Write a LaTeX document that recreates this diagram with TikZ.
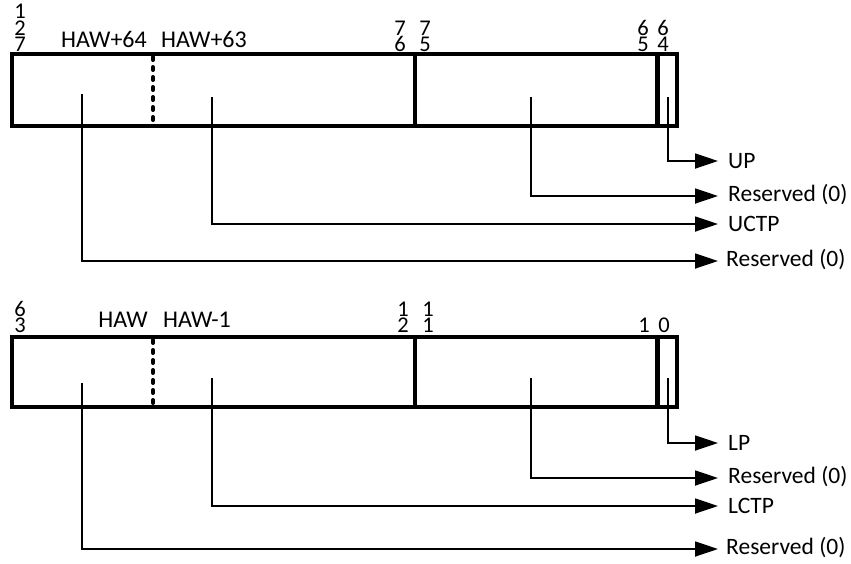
\documentclass[tikz,border=0pt]{standalone}
\usepackage{fontspec}
\setmainfont{Carlito}
\usetikzlibrary{arrows.meta}

\begin{document}
\begin{tikzpicture}[x=1pt,y=-1pt,
    frame/.style={line width=3.6pt},
    bitno/.style={inner sep=0pt, align=center, anchor=south, font=\fontsize{22.5}{16.5}\selectfont},
    haw/.style={inner sep=0pt, anchor=base, font=\fontsize{24}{28}\selectfont},
    field/.style={inner sep=0pt, anchor=west, text height=15pt, text depth=0pt, font=\fontsize{23.5}{28}\selectfont},
    conn/.style={line width=1.8pt, -{Triangle[length=23pt,width=15pt]}},
    gap/.style={line width=4pt, dash pattern=on 3pt off 7pt, line cap=round}
]
\useasboundingbox (0,0) rectangle (851,563);

% upper register
\draw[frame] (12,54) rectangle (677,126);
\draw[gap] (153,57) -- (153,126);
\draw[frame] (415,54) -- (415,126);
\draw[line width=5pt] (657,54) -- (657,126);

\node[bitno] (u127) at (20,52) {1\\2\\7};
\node[haw] (u64) at (104,47) {HAW+64};
\node[haw] (u63) at (204,47) {HAW+63};
\node[bitno] (u76) at (400,52) {7\\6};
\node[bitno] (u75) at (425,52) {7\\5};
\node[bitno] (u65) at (643,52) {6\\5};
\node[bitno] (u64b) at (663,52) {6\\4};

\coordinate (us1) at (82,94);
\coordinate (us2) at (212,97);
\coordinate (us3) at (531,97);
\coordinate (us4) at (668,97);

\node[field] (up) at (728,161) {UP};
\node[field] (ures1) at (728,194) {Reserved (0)};
\node[field] (uctp) at (728,224) {UCTP};
\node[field] (ures2) at (726,259) {Reserved (0)};

\draw[conn] (us4) |- ([xshift=-10pt]up.west);
\draw[conn] (us3) |- ([xshift=-10pt,yshift=-2pt]ures1.west);
\draw[conn] (us2) |- ([xshift=-10pt]uctp.west);
\draw[conn] (us1) |- ([xshift=-8pt,yshift=-2pt]ures2.west);

% lower register
\draw[frame] (12,337) rectangle (677,407);
\draw[gap] (153,340) -- (153,407);
\draw[frame] (415,337) -- (415,407);
\draw[line width=5pt] (657,337) -- (657,407);

\node[bitno] (l63) at (20,333) {6\\3};
\node[haw] (lhaw) at (123,327) {HAW};
\node[haw] (lhaw1) at (197,327) {HAW-1};
\node[bitno] (l12) at (403,333) {1\\2};
\node[bitno] (l11) at (428,333) {1\\1};
\node[bitno] (l1) at (644,333) {1};
\node[bitno] (l0) at (664,333) {0};

\coordinate (ls1) at (82,383);
\coordinate (ls2) at (212,378);
\coordinate (ls3) at (531,378);
\coordinate (ls4) at (668,378);

\node[field] (lp) at (728,443) {LP};
\node[field] (lres1) at (728,476) {Reserved (0)};
\node[field] (lctp) at (728,506) {LCTP};
\node[field] (lres2) at (726,547) {Reserved (0)};

\draw[conn] (ls4) |- ([xshift=-10pt]lp.west);
\draw[conn] (ls3) |- ([xshift=-10pt,yshift=-2pt]lres1.west);
\draw[conn] (ls2) |- ([xshift=-10pt]lctp.west);
\draw[conn] (ls1) |- ([xshift=-8pt,yshift=-2pt]lres2.west);

\end{tikzpicture}
\end{document}
